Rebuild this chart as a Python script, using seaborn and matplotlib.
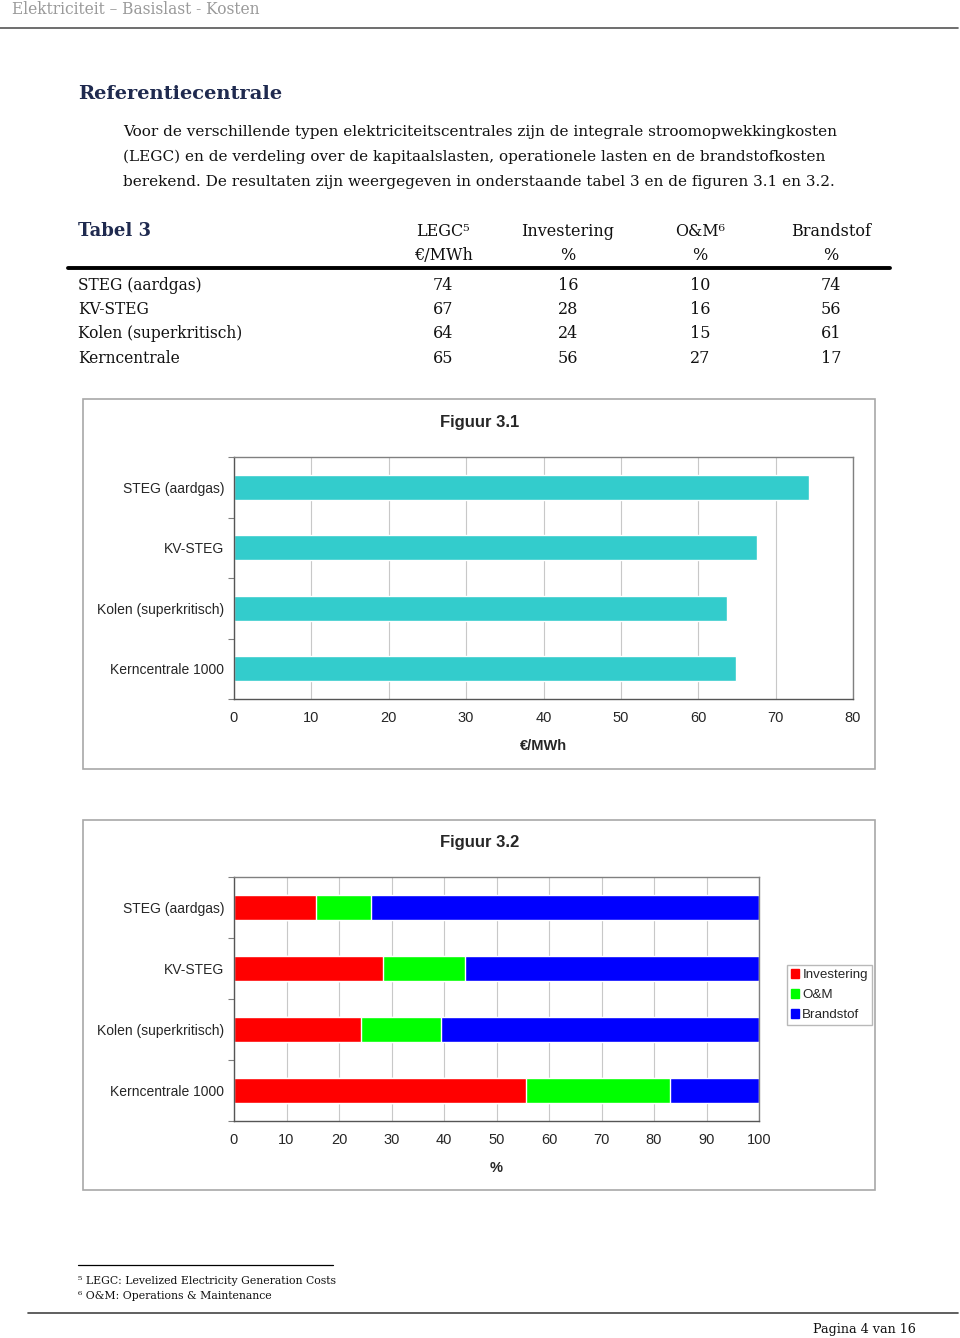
import matplotlib
matplotlib.use("Agg")
import matplotlib.pyplot as plt
from matplotlib.patches import Rectangle, Patch
from matplotlib.lines import Line2D
import seaborn as sns
import pandas as pd

# table 3
table_rows = ["STEG (aardgas)", "KV-STEG", "Kolen (superkritisch)", "Kerncentrale"]
table_cols = ["LEGC⁵", "Investering", "O&M⁶", "Brandstof"]
table_units = ["€/MWh", "%", "%", "%"]
table_legc = [74, 67, 64, 65]
table_inv = [16, 28, 24, 56]
table_om = [10, 16, 15, 27]
table_fuel = [74, 56, 61, 17]

# figures 3.1 / 3.2
plants = ["STEG (aardgas)", "KV-STEG", "Kolen (superkritisch)", "Kerncentrale 1000"]
legc = [74.3, 67.6, 63.7, 64.9]
inv_pct = [15.6, 28.4, 24.2, 55.6]
om_pct = [10.5, 15.6, 15.2, 27.4]
fuel_pct = [73.9, 56.0, 60.6, 17.0]
x_ticks_1 = [0, 10, 20, 30, 40, 50, 60, 70, 80]
x_ticks_2 = [0, 10, 20, 30, 40, 50, 60, 70, 80, 90, 100]

W, H = 960, 1338
NAVY = "#1f2a4f"
SANS = "Liberation Sans"
SERIF = "DejaVu Serif"

sns.set_theme(style="white")
plt.rcParams["font.family"] = [SERIF, "DejaVu Sans"]


def fx(x):
    return x / W


def fy(y):
    return 1 - y / H


fig = plt.figure(figsize=(9.6, 13.38), dpi=100)

# page header
fig.text(fx(12), fy(9), "Elektriciteit – Basislast - Kosten", fontsize=11.2,
         color="#9a9a9a", va="center", ha="left")
fig.add_artist(Line2D([0, fx(958)], [fy(28), fy(28)], color="#555555", lw=1.2))

fig.text(fx(78), fy(94), "Referentiecentrale", fontsize=14, fontweight="bold",
         color=NAVY, va="center")
body = ["Voor de verschillende typen elektriciteitscentrales zijn de integrale stroomopwekkingkosten",
        "(LEGC) en de verdeling over de kapitaalslasten, operationele lasten en de brandstofkosten",
        "berekend. De resultaten zijn weergegeven in onderstaande tabel 3 en de figuren 3.1 en 3.2."]
for i, line in enumerate(body):
    fig.text(fx(123), fy(132 + 25 * i), line, fontsize=11, va="center", color="#111111")

# table 3
col_x = [443, 568, 700, 831]
fig.text(fx(78), fy(231), "Tabel 3", fontsize=13, fontweight="bold", color=NAVY, va="center")
for cx, head, unit in zip(col_x, table_cols, table_units):
    fig.text(fx(cx), fy(231), head, fontsize=11.5, ha="center", va="center", color="#111111")
    fig.text(fx(cx), fy(256), unit, fontsize=11.5, ha="center", va="center", color="#111111")
fig.add_artist(Line2D([fx(68), fx(890)], [fy(268), fy(268)], color="black", lw=2.8))
table_df = pd.DataFrame({"legc": table_legc, "inv": table_inv, "om": table_om, "fuel": table_fuel},
                        index=table_rows)
for r, (name, row) in enumerate(table_df.iterrows()):
    yy = fy(285 + 24.5 * r)
    fig.text(fx(78), yy, name, fontsize=11.2, va="center", color="#111111")
    for cx, val in zip(col_x, row.values):
        fig.text(fx(cx), yy, str(val), fontsize=11.5, ha="center", va="center", color="#111111")


def style_axes(ax, ticks, xlabel):
    ax.set_xlim(ticks[0], ticks[-1])
    ax.set_ylim(3.5, -0.5)
    ax.set_xticks(ticks)
    ax.set_xticklabels([str(t) for t in ticks], fontsize=10.5, family=SANS)
    ax.set_yticks(range(len(plants)))
    ax.set_yticklabels(plants, fontsize=10, family=SANS)
    ax.set_yticks([-0.5, 0.5, 1.5, 2.5, 3.5], minor=True)
    ax.tick_params(axis="y", which="major", length=0, pad=7)
    ax.tick_params(axis="y", which="minor", left=True, length=4, color="#808080", width=0.8)
    ax.tick_params(axis="x", length=0, pad=9)
    ax.set_ylabel("")
    ax.set_xlabel(xlabel, fontsize=10.5, fontweight="bold", family=SANS, labelpad=10)
    ax.xaxis.grid(True, color="#c8c8c8", lw=0.8)
    ax.yaxis.grid(False)
    ax.set_axisbelow(True)
    for sp in ax.spines.values():
        sp.set_color("#808080")
        sp.set_linewidth(1.0)
    ax.spines["left"].set_color("#555555")
    ax.spines["bottom"].set_color("#555555")


def frame(top, bottom):
    fig.add_artist(Rectangle((fx(83), fy(bottom)), fx(875) - fx(83), fy(top) - fy(bottom),
                             transform=fig.transFigure, fill=False, ec="#a8a8a8", lw=1.2))


# figuur 3.1
frame(399, 769)
fig.text(fx(480), fy(422), "Figuur 3.1", fontsize=12, fontweight="bold", family=SANS,
         ha="center", va="center")
ax1 = fig.add_axes([fx(234), fy(699), fx(853) - fx(234), fy(457) - fy(699)])
df1 = pd.DataFrame({"plant": plants, "legc": legc})
sns.barplot(data=df1, x="legc", y="plant", orient="h", color="#33cccc", saturation=1,
            width=0.41, ax=ax1)
style_axes(ax1, x_ticks_1, "€/MWh")

# figuur 3.2 (stacked by overlaying cumulative totals)
frame(820, 1190)
fig.text(fx(480), fy(843), "Figuur 3.2", fontsize=12, fontweight="bold", family=SANS,
         ha="center", va="center")
ax2 = fig.add_axes([fx(234), fy(1121), fx(759) - fx(234), fy(877) - fy(1121)])
df2 = pd.DataFrame({"plant": plants, "inv": inv_pct, "om": om_pct, "fuel": fuel_pct})
df2["cum_om"] = df2["inv"] + df2["om"]
df2["cum_fuel"] = df2["cum_om"] + df2["fuel"]
for col, colr in [("cum_fuel", "#0000ff"), ("cum_om", "#00ff00"), ("inv", "#ff0000")]:
    sns.barplot(data=df2, x=col, y="plant", orient="h", color=colr, saturation=1,
                width=0.41, ax=ax2)
style_axes(ax2, x_ticks_2, "%")

handles = [Patch(color="#ff0000", label="Investering"),
           Patch(color="#00ff00", label="O&M"),
           Patch(color="#0000ff", label="Brandstof")]
leg = fig.legend(handles=handles, loc="upper left", bbox_to_anchor=(fx(787), fy(965)),
                 frameon=True, fancybox=False, edgecolor="#a8a8a8",
                 prop={"family": SANS, "size": 9.6}, handlelength=0.6, handleheight=0.6,
                 handletextpad=0.25, borderpad=0.3, labelspacing=0.6, borderaxespad=0)
leg.get_frame().set_linewidth(1.0)

# footnotes and footer
fig.add_artist(Line2D([fx(78), fx(333)], [fy(1265), fy(1265)], color="black", lw=0.9))
fig.text(fx(78), fy(1281), "⁵ LEGC: Levelized Electricity Generation Costs", fontsize=7.8,
         va="center", color="#111111")
fig.text(fx(78), fy(1296), "⁶ O&M: Operations & Maintenance", fontsize=7.8,
         va="center", color="#111111")
fig.add_artist(Line2D([fx(28), fx(958)], [fy(1313), fy(1313)], color="#444444", lw=1.2))
fig.text(fx(916), fy(1329), "Pagina 4 van 16", fontsize=9.2, ha="right", va="center",
         color="#111111")

fig.savefig("out.png", dpi=100, facecolor="white")
